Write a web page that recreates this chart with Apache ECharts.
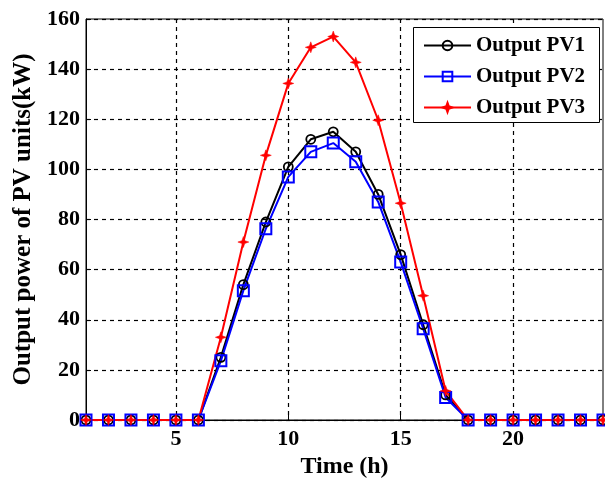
<!DOCTYPE html>
<html>
<head>
<meta charset="utf-8">
<script src="https://cdn.jsdelivr.net/npm/echarts@6/dist/echarts.min.js"></script>
<style>
	html,body{margin:0;padding:0;background:#fff;}
	#chart{width:605px;height:481px;}
</style>
</head>
<body>
<div id="chart"></div>
<script>
	// 横轴时间(h)
	var hours = [1,2,3,4,5,6,7,8,9,10,11,12,13,14,15,16,17,18,19,20,21,22,23,24];
	var pv1 = [0,0,0,0,0,0,25,54,79,101,112,115,107,90,66,38,10,0,0,0,0,0,0,0];
	var pv2 = [0,0,0,0,0,0,23.6,51.6,76.3,97,107,110.5,103,87,63,36.4,9,0,0,0,0,0,0,0];
	var pv3 = [0,0,0,0,0,0,33,71,105.6,134.3,148.7,153,142.7,119.6,86.5,49.6,11.6,0,0,0,0,0,0,0];
	var xTicks = [5,10,15,20];
	var seriesNames = ['Output PV1','Output PV2','Output PV3'];

	var font = '"Liberation Serif","Times New Roman",serif';
	var star = 'path://M0,-10 L2.6,-2.6 L10,0 L2.6,2.6 L0,10 L-2.6,2.6 L-10,0 L-2.6,-2.6 Z';

	var pairs = function(ys){
		return hours.map(function(h,i){ return [h, ys[i]]; });
	};

	var myChart = echarts.init(document.getElementById('chart'));
	var option = {
		backgroundColor: '#fff',
		animation: false,
		grid: {
			left: 86, right: 2, top: 19, bottom: 61,
			outerBoundsMode: 'none',
			containLabel: false,
			show: true, borderColor: '#000', borderWidth: 1, backgroundColor: 'transparent'
		},
		// 图例外框
		graphic: [{
			type: 'rect',
			left: 413, top: 27,
			z: 3,
			shape: {width: 186, height: 95},
			style: {fill: '#fff', stroke: '#000', lineWidth: 1}
		}],
		legend: {
			left: 413, top: 27,
			orient: 'vertical',
			padding: [8, 10, 8, 10],
			itemGap: 10,
			itemWidth: 47,
			itemHeight: 12,
			textStyle: {fontFamily: font, fontWeight: 'bold', fontSize: 21, color: '#000'},
			data: seriesNames
		},
		xAxis: {
			type: 'value',
			min: 1, max: 24,
			name: 'Time (h)',
			nameLocation: 'middle',
			nameGap: 35,
			nameTextStyle: {fontFamily: font, fontWeight: 'bold', fontSize: 24, color: '#000'},
			axisLine: {lineStyle: {color: '#000', width: 1}},
			axisTick: {show: true, inside: true, length: 5, customValues: xTicks, lineStyle: {color: '#000'}},
			axisLabel: {customValues: xTicks, margin: 8, fontFamily: font, fontWeight: 'bold', fontSize: 22, color: '#000'},
			splitLine: {show: true, lineStyle: {color: '#000', type: [4,4], width: 1.2}}
		},
		yAxis: {
			type: 'value',
			min: 0, max: 160, interval: 20,
			name: 'Output power of PV units(kW)',
			nameLocation: 'middle',
			nameGap: 44,
			nameTextStyle: {fontFamily: font, fontWeight: 'bold', fontSize: 25, color: '#000'},
			axisLine: {show: true, lineStyle: {color: '#000', width: 1}},
			axisTick: {show: true, inside: true, length: 5, lineStyle: {color: '#000'}},
			axisLabel: {margin: 6, fontFamily: font, fontWeight: 'bold', fontSize: 22, color: '#000'},
			splitLine: {show: true, lineStyle: {color: '#000', type: [4,4], width: 1.2}}
		},
		series: [{
				name: seriesNames[0],
				type: 'line',
				data: pairs(pv1),
				symbol: 'circle',
				symbolSize: 9,
				showAllSymbol: true,
				lineStyle: {color: '#000', width: 2},
				itemStyle: {color: 'transparent', borderColor: '#000', borderWidth: 1.8}
			},{
				name: seriesNames[1],
				type: 'line',
				data: pairs(pv2),
				symbol: 'rect',
				symbolSize: 11,
				showAllSymbol: true,
				lineStyle: {color: '#0000ff', width: 2},
				itemStyle: {color: 'transparent', borderColor: '#0000ff', borderWidth: 2}
			},{
				name: seriesNames[2],
				type: 'line',
				data: pairs(pv3),
				symbol: star,
				symbolSize: 11,
				showAllSymbol: true,
				lineStyle: {color: '#ff0000', width: 2},
				itemStyle: {color: '#ff0000', borderColor: '#ff0000', borderWidth: 0.5}
			}
		]
	};
	myChart.setOption(option);
</script>
</body>
</html>
